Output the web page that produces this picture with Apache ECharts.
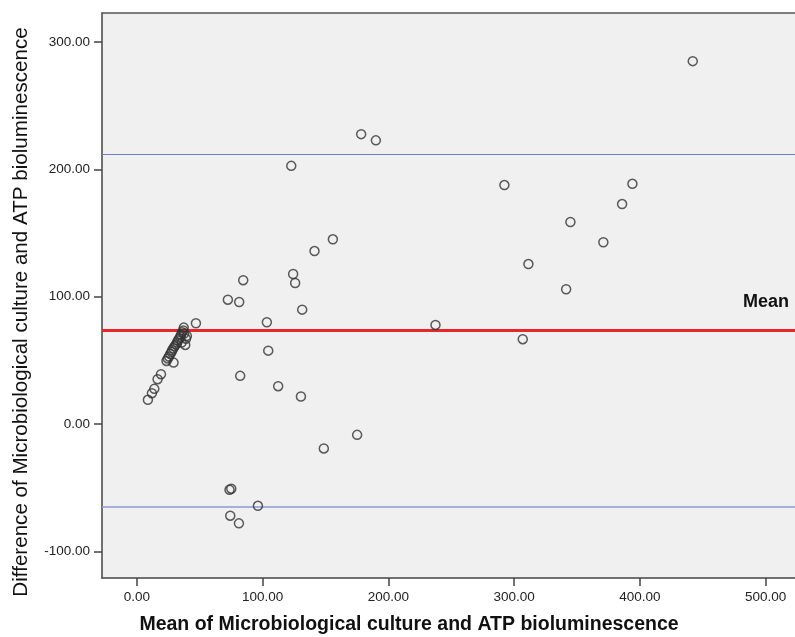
<!DOCTYPE html>
<html>
<head>
<meta charset="utf-8">
<script src="https://cdn.jsdelivr.net/npm/echarts@6/dist/echarts.min.js"></script>
<style>
html,body{margin:0;padding:0;background:#fff;}
#chart{width:795px;height:637px;}
</style>
</head>
<body>
<div id="chart"></div>
<script>
// Mean of the two methods (x) and their difference (y)
const meanValues = [
  442.0, 178.3, 190.0, 122.7, 292.2, 394.0, 385.8, 344.7, 155.8, 141.2,
  370.9, 311.3, 124.2, 125.8, 84.5, 341.3, 72.3, 81.3, 131.4, 103.3,
  237.4, 306.8, 104.4, 82.1, 112.3, 130.4, 175.1, 148.6, 73.6, 75.0,
  96.2, 74.2, 81.1,
  8.7, 11.9, 13.8, 16.4, 19.1, 46.9,
  23.5, 24.5, 25.5, 26.5, 27.5, 28.0, 29.0, 30.0, 31.0, 32.0,
  32.5, 33.5, 34.5, 35.0, 36.0, 36.8, 37.2, 29.1, 39.7, 38.4,
  39.0, 35.5, 37.5
];
const diffValues = [
  284.9, 227.6, 222.7, 202.7, 187.6, 188.6, 172.7, 158.6, 145.0, 135.8,
  142.7, 125.6, 117.8, 110.7, 112.9, 105.8, 97.6, 95.8, 89.8, 79.9,
  77.8, 66.6, 57.6, 37.8, 29.7, 21.6, -8.5, -19.2, -51.6, -50.8,
  -64.2, -72.0, -78.0,
  19.0, 24.2, 27.6, 35.2, 39.1, 79.1,
  49.5, 51.5, 53.0, 55.0, 56.5, 58.0, 59.5, 61.0, 62.5, 64.0,
  65.5, 67.0, 68.5, 70.0, 72.0, 73.5, 75.7, 48.2, 69.2, 62.1,
  67.0, 64.0, 71.0
];
const meanDifference = 73.4;
const upperLimit = 211.9;
const lowerLimit = -65.2;
const xTicks = [0, 100, 200, 300, 400, 500];
const yTicks = [-100, 0, 100, 200, 300];
const xTitle = 'Mean of Microbiological culture and ATP bioluminescence';
const yTitle = 'Difference of Microbiological culture and ATP bioluminescence';
const meanLabel = 'Mean';

const points = meanValues.map((x, i) => [x, diffValues[i]]);
const chart = echarts.init(document.getElementById('chart'), null, {renderer: 'canvas'});
const fmt = v => Number(v).toFixed(2);
const font = 'Arial, "Liberation Sans", sans-serif';
const frame = {color: '#555', width: 1.5};

chart.setOption({
  animation: false,
  backgroundColor: '#ffffff',
  grid: {
    left: 102, top: 13, right: 0, bottom: 59,
    show: true, backgroundColor: '#f0f0f0', borderWidth: 0
  },
  xAxis: [{
    type: 'value', min: -27.8, max: 523.3,
    axisLine: {show: true, onZero: false, lineStyle: {color: '#444', width: 1.5}},
    axisTick: {show: true, customValues: xTicks, length: 8, lineStyle: {color: '#444', width: 1.5}},
    axisLabel: {customValues: xTicks, formatter: fmt, margin: 12, color: '#222', fontSize: 13.5, fontFamily: font},
    splitLine: {show: false}
  }, {
    type: 'value', position: 'top', min: -27.8, max: 523.3,
    axisLine: {show: true, onZero: false, lineStyle: frame},
    axisTick: {show: false}, axisLabel: {show: false}, splitLine: {show: false}
  }],
  yAxis: {
    type: 'value', min: -120.9, max: 322.7,
    axisLine: {show: true, onZero: false, lineStyle: {color: '#444', width: 1.5}},
    axisTick: {show: true, customValues: yTicks, length: 8, lineStyle: {color: '#444', width: 1.5}},
    axisLabel: {customValues: yTicks, formatter: fmt, margin: 12, color: '#222', fontSize: 13.5, fontFamily: font},
    splitLine: {show: false}
  },
  graphic: [
    {type: 'text', x: 409, y: 625, style: {text: xTitle, align: 'center', verticalAlign: 'middle',
      font: 'bold 19.5px ' + font, fill: '#111'}},
    {type: 'text', x: 21, y: 312, rotation: Math.PI / 2, style: {text: yTitle, align: 'center', verticalAlign: 'middle',
      font: '20.6px ' + font, fill: '#111'}}
  ],
  series: [{
    type: 'scatter',
    data: points,
    symbol: 'circle',
    symbolSize: 9,
    itemStyle: {color: 'rgba(0,0,0,0)', borderColor: '#333', borderWidth: 1.5},
    z: 5,
    markLine: {
      silent: true, symbol: 'none',
      data: [
        {yAxis: upperLimit, lineStyle: {color: '#6b7fc6', width: 1.2, type: 'solid'}, label: {show: false}},
        {yAxis: lowerLimit, lineStyle: {color: '#8b9bd6', width: 1.5, type: 'solid'}, label: {show: false}},
        {yAxis: meanDifference, lineStyle: {color: '#e8262b', width: 3, type: 'solid'},
          label: {show: true, formatter: meanLabel, position: 'insideEndTop', distance: [6, 19],
            color: '#111', fontWeight: 'bold', fontSize: 18, fontFamily: font}}
      ]
    }
  }]
});
</script>
</body>
</html>
